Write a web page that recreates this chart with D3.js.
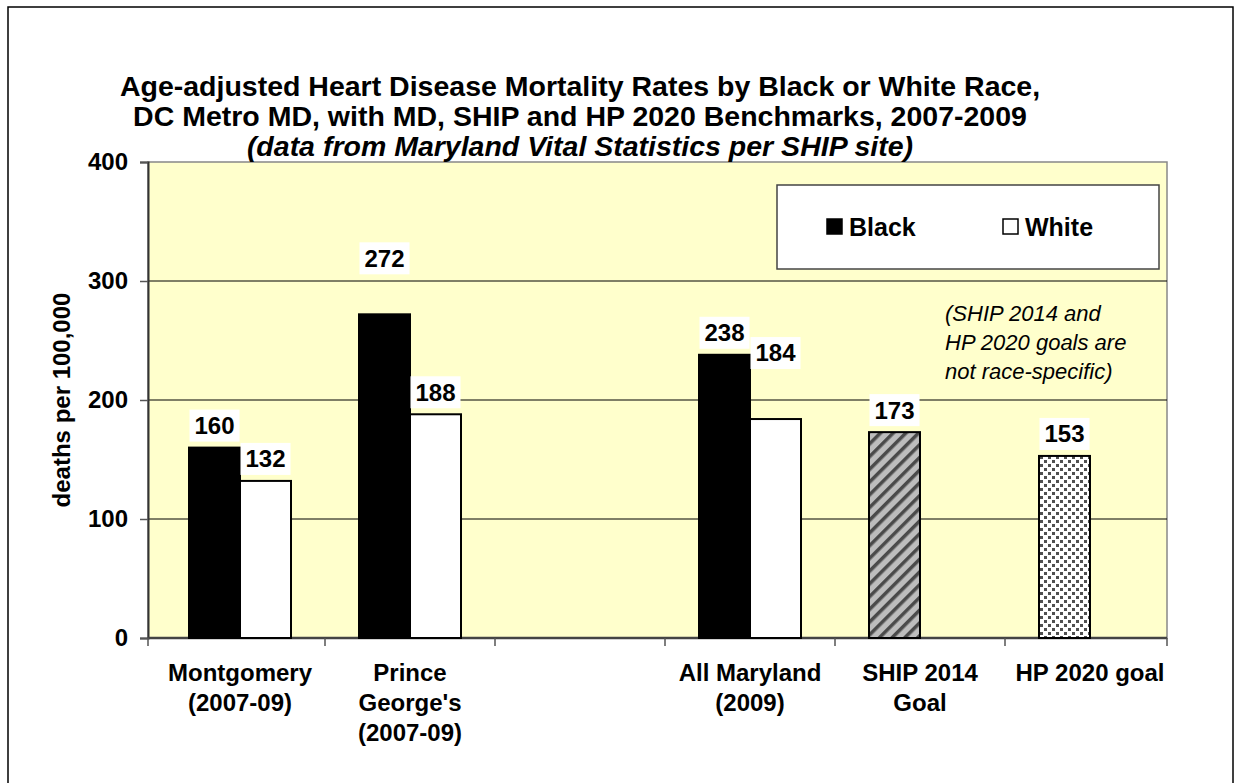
<!DOCTYPE html>
<html>
<head>
<meta charset="utf-8">
<script src="https://cdn.jsdelivr.net/npm/d3@7"></script>
<style>
	body { margin: 0; background: #fff; }
	svg text { font-family: "Liberation Sans", Arial, sans-serif; }
</style>
</head>
<body>
<svg id="chart" width="1235" height="783"></svg>
<script>
// Chart data
var categories = ["Montgomery", "Prince George's", "gap", "All Maryland", "SHIP 2014", "HP 2020"]
var categoryLabels = [
	["Montgomery", "(2007-09)"],
	["Prince", "George's", "(2007-09)"],
	[],
	["All Maryland", "(2009)"],
	["SHIP 2014", "Goal"],
	["HP 2020 goal"]
]
var series = ["Black", "White"]
var blackValues = [160, 272, null, 238, 173, 153]
var whiteValues = [132, 188, null, 184, null, null]
var yTicks = [0, 100, 200, 300, 400]
var titleLines = [
	"Age-adjusted Heart Disease Mortality Rates by Black or White Race,",
	"DC Metro MD, with MD, SHIP and HP 2020 Benchmarks, 2007-2009",
	"(data from Maryland Vital Statistics per SHIP site)"
]
var noteLines = ["(SHIP 2014 and", "HP 2020 goals are", "not race-specific)"]

window.onload = function() {
	drawChart()
}

function drawChart() {
	var svg = d3.select("#chart")
	var plot = {left: 148, right: 1167, top: 162, bottom: 638}

	// Outer chart frame
	svg.append("rect")
		.attr("x", 8).attr("y", 7)
		.attr("width", 1225).attr("height", 800)
		.attr("fill", "#fff")
		.attr("stroke", "#000")
		.attr("stroke-width", 1.5)

	// Fill patterns for the goal bars
	var defs = svg.append("defs")
	var stripes = defs.append("pattern")
		.attr("id", "stripes")
		.attr("patternUnits", "userSpaceOnUse")
		.attr("width", 9).attr("height", 9)
		.attr("patternTransform", "rotate(45)")
	stripes.append("rect").attr("width", 9).attr("height", 9).attr("fill", "#bdbdbd")
	stripes.append("rect").attr("width", 3.5).attr("height", 9).attr("fill", "#4a4a4a")

	var dots = defs.append("pattern")
		.attr("id", "dots")
		.attr("patternUnits", "userSpaceOnUse")
		.attr("width", 8).attr("height", 8)
	dots.append("rect").attr("width", 8).attr("height", 8).attr("fill", "#fff")
	dots.append("rect").attr("x", 0).attr("y", 0).attr("width", 3).attr("height", 3).attr("fill", "#505050")
	dots.append("rect").attr("x", 4).attr("y", 4).attr("width", 3).attr("height", 3).attr("fill", "#505050")

	// Scales (category bands sit a little right of the plot's left edge, as in the original)
	var x = d3.scaleBand().domain(categories).range([plot.left + 7, plot.right + 8])
	var xSub = d3.scaleBand().domain(series)
		.range([x.bandwidth() * 0.2, x.bandwidth() * 0.8])
	var y = d3.scaleLinear().domain([0, 400]).range([plot.bottom, plot.top])

	// Plot background
	svg.append("rect")
		.attr("x", plot.left).attr("y", plot.top)
		.attr("width", plot.right - plot.left).attr("height", plot.bottom - plot.top)
		.attr("fill", "#ffffcc")
		.attr("stroke", "#888")
		.attr("stroke-width", 1.5)

	// Gridlines
	svg.append("g").selectAll("line")
		.data(yTicks.slice(1, -1))
		.enter().append("line")
		.attr("x1", plot.left).attr("x2", plot.right)
		.attr("y1", function(d) { return y(d) })
		.attr("y2", function(d) { return y(d) })
		.attr("stroke", "#000")
		.attr("stroke-width", 1)

	// Y axis
	var yAxis = svg.append("g")
		.attr("transform", "translate(" + plot.left + ",0)")
		.call(d3.axisLeft(y).tickValues(yTicks).tickSize(8).tickPadding(12))
	yAxis.select(".domain").attr("stroke", "#333").attr("stroke-width", 2)
	yAxis.selectAll(".tick line").attr("stroke", "#555").attr("stroke-width", 1.5)
	yAxis.selectAll(".tick text")
		.style("font-size", "24px").style("font-weight", "bold").attr("fill", "#000")

	svg.append("text")
		.attr("transform", "translate(62," + ((plot.top + plot.bottom) / 2) + ") rotate(-90)")
		.attr("text-anchor", "middle")
		.attr("dy", "0.35em")
		.style("font-size", "24px").style("font-weight", "bold")
		.text("deaths per 100,000")

	// X axis line and category labels under band centres
	svg.append("line")
		.attr("x1", plot.left).attr("x2", plot.right)
		.attr("y1", plot.bottom).attr("y2", plot.bottom)
		.attr("stroke", "#444").attr("stroke-width", 2.5)
	var xAxis = svg.append("g")
		.attr("transform", "translate(0," + plot.bottom + ")")
		.call(d3.axisBottom(x).tickSize(0).tickFormat(""))
	xAxis.select(".domain").remove()
	xAxis.selectAll(".tick text").remove()
	xAxis.selectAll(".tick").each(function(d, i) {
		var lines = categoryLabels[i]
		var t = d3.select(this).append("text")
			.attr("fill", "#000")
			.attr("text-anchor", "middle")
			.style("font-size", "24px").style("font-weight", "bold")
		lines.forEach(function(line, j) {
			t.append("tspan").attr("x", 0).attr("y", 35 + j * 30).attr("dy", "0.35em").text(line)
		})
	})
	// Tick marks between the categories and at both ends
	var boundaries = [plot.left].concat(categories.slice(1).map(function(c) { return x(c) }), [plot.right])
	xAxis.selectAll(".sep")
		.data(boundaries)
		.enter().append("line")
		.attr("class", "sep")
		.attr("x1", function(d) { return d }).attr("x2", function(d) { return d })
		.attr("y1", 0).attr("y2", 8)
		.attr("stroke", "#555").attr("stroke-width", 1.5)

	// Bars
	var bars = []
	categories.forEach(function(c, i) {
		if (blackValues[i] != null) bars.push({cat: c, s: "Black", v: blackValues[i]})
		if (whiteValues[i] != null) bars.push({cat: c, s: "White", v: whiteValues[i]})
	})
	var fills = {"SHIP 2014": "url(#stripes)", "HP 2020": "url(#dots)"}

	svg.append("g").selectAll("rect")
		.data(bars)
		.enter().append("rect")
		.attr("x", function(d) { return x(d.cat) + xSub(d.s) })
		.attr("y", function(d) { return y(d.v) })
		.attr("width", xSub.bandwidth())
		.attr("height", function(d) { return y(0) - y(d.v) })
		.attr("fill", function(d) {
			if (fills[d.cat]) return fills[d.cat]
			return d.s === "Black" ? "#000" : "#fff"
		})
		.attr("stroke", "#000")
		.attr("stroke-width", 2)

	// Value labels on white boxes (two were dragged higher in the original)
	var nudge = {"Prince George's|Black": 34, "All Maryland|White": 44}
	var labels = svg.append("g").selectAll("g")
		.data(bars)
		.enter().append("g")
		.attr("transform", function(d) {
			var extra = nudge[d.cat + "|" + d.s] || 0
			return "translate(" + (x(d.cat) + xSub(d.s) + xSub.bandwidth() / 2) + "," + (y(d.v) - 22 - extra) + ")"
		})
	labels.append("rect")
		.attr("x", -25).attr("y", -16)
		.attr("width", 50).attr("height", 32)
		.attr("fill", "#fff")
	labels.append("text")
		.attr("text-anchor", "middle")
		.attr("dy", "0.35em")
		.style("font-size", "24px").style("font-weight", "bold")
		.text(function(d) { return d.v })

	// Legend
	var legend = svg.append("g")
	legend.append("rect")
		.attr("x", 777).attr("y", 185)
		.attr("width", 382).attr("height", 84)
		.attr("fill", "#fff")
		.attr("stroke", "#444").attr("stroke-width", 1.5)
	var items = legend.selectAll("g.item")
		.data(series)
		.enter().append("g")
		.attr("class", "item")
		.attr("transform", function(d, i) { return "translate(" + (827 + i * 176) + ",227)" })
	items.append("rect")
		.attr("x", 0).attr("y", -8)
		.attr("width", 15).attr("height", 15)
		.attr("fill", function(d) { return d === "Black" ? "#000" : "#fff" })
		.attr("stroke", "#000").attr("stroke-width", 1.5)
	items.append("text")
		.attr("x", 22).attr("dy", "0.35em")
		.style("font-size", "25px").style("font-weight", "bold")
		.text(function(d) { return d })

	// Note about the goals
	svg.append("g").selectAll("text")
		.data(noteLines)
		.enter().append("text")
		.attr("x", 945)
		.attr("y", function(d, i) { return 313 + i * 29 })
		.attr("dy", "0.35em")
		.style("font-size", "22px").style("font-style", "italic")
		.text(function(d) { return d })

	// Title
	svg.append("g").selectAll("text")
		.data(titleLines)
		.enter().append("text")
		.attr("x", 580)
		.attr("y", function(d, i) { return 86 + i * 30 })
		.attr("dy", "0.35em")
		.attr("text-anchor", "middle")
		.style("font-size", "28.5px").style("font-weight", "bold")
		.style("font-style", function(d, i) { return i === 2 ? "italic" : "normal" })
		.text(function(d) { return d })
}
</script>
</body>
</html>
